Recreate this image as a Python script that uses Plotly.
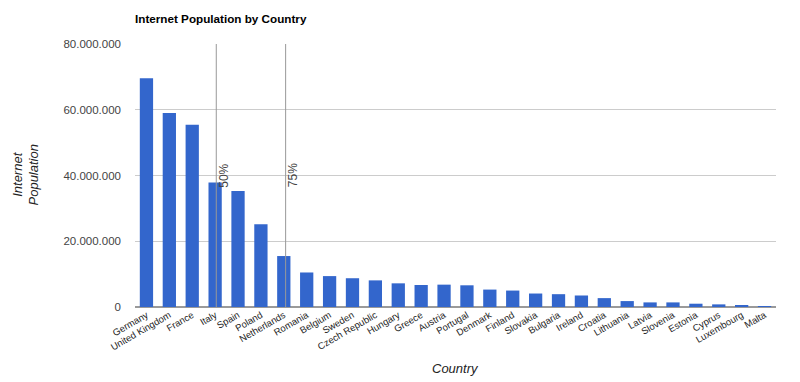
import plotly.graph_objects as go

countries = ["Germany", "United Kingdom", "France", "Italy", "Spain", "Poland",
             "Netherlands", "Romania", "Belgium", "Sweden", "Czech Republic",
             "Hungary", "Greece", "Austria", "Portugal", "Denmark", "Finland",
             "Slovakia", "Bulgaria", "Ireland", "Croatia", "Lithuania", "Latvia",
             "Slovenia", "Estonia", "Cyprus", "Luxembourg", "Malta"]
internet_population = [69600000, 59000000, 55400000, 37900000, 35300000, 25200000,
                       15500000, 10500000, 9400000, 8750000, 8100000,
                       7200000, 6700000, 6800000, 6600000, 5300000, 5000000,
                       4100000, 3900000, 3500000, 2700000, 1800000, 1400000,
                       1400000, 1000000, 800000, 400000, 200000]
marker_labels = ["50%", "75%"]
marker_positions = [3.05, 6.08]
y_tick_values = [0, 20000000, 40000000, 60000000, 80000000]

FONT = "Arial, Liberation Sans, sans-serif"

# page body has an 8px margin: figure is placed at (8, 8)
W, H = 792, 374
L, R, T, B = 127, 24, 36, 75
PW = W - L - R
PH = H - T - B

fig = go.Figure()
fig.add_trace(go.Bar(x=countries, y=internet_population, marker_color="#3366cc",
                     marker_line_width=0))

for lab, pos in zip(marker_labels, marker_positions):
    fig.add_shape(type="line", xref="x", yref="paper", x0=pos, x1=pos, y0=0, y1=1,
                  line=dict(color="#999999", width=1), layer="above")
    fig.add_annotation(x=pos, y=40000000, xref="x", yref="y", text=lab,
                       textangle=-90, showarrow=False, xanchor="left",
                       yanchor="middle", xshift=-2,
                       font=dict(family=FONT, size=12, color="#444444"))

fig.add_annotation(xref="paper", yref="paper", x=(17 - L) / PW, y=0.5,
                   text="<i>Internet<br>Population</i>", textangle=-90,
                   showarrow=False, xanchor="center", yanchor="middle",
                   font=dict(family=FONT, size=13, color="#222222"))

fig.add_annotation(xref="paper", yref="paper", x=0.5, y=-(360 - (T + PH)) / PH,
                   text="<i>Country</i>", showarrow=False, xanchor="center",
                   yanchor="middle", font=dict(family=FONT, size=13, color="#222222"))

fig.update_layout(
    width=W, height=H,
    margin=dict(l=L, r=R, t=T, b=B, pad=0),
    paper_bgcolor="white", plot_bgcolor="white",
    separators=",.",
    bargap=0.42,
    showlegend=False,
    title=dict(text="<b>Internet Population by Country</b>", x=L / W, xanchor="left",
               y=1 - 11 / H, yanchor="middle",
               font=dict(family=FONT, size=11.7, color="#000000")),
    font=dict(family=FONT),
)
fig.update_xaxes(
    tickangle=-30, tickfont=dict(family=FONT, size=9.5, color="#222222"),
    showgrid=False, showline=False, ticks="", automargin=False,
)
fig.update_yaxes(
    range=[0, 80000000], tickvals=y_tick_values, tickformat=",d",
    tickfont=dict(family=FONT, size=11.5, color="#444444"),
    showgrid=True, gridcolor="#cccccc", gridwidth=1,
    zeroline=True, zerolinecolor="#9a9a9a", zerolinewidth=1.5,
    ticks="", ticklabelstandoff=13, automargin=False,
)

fig.write_html("out.html")
